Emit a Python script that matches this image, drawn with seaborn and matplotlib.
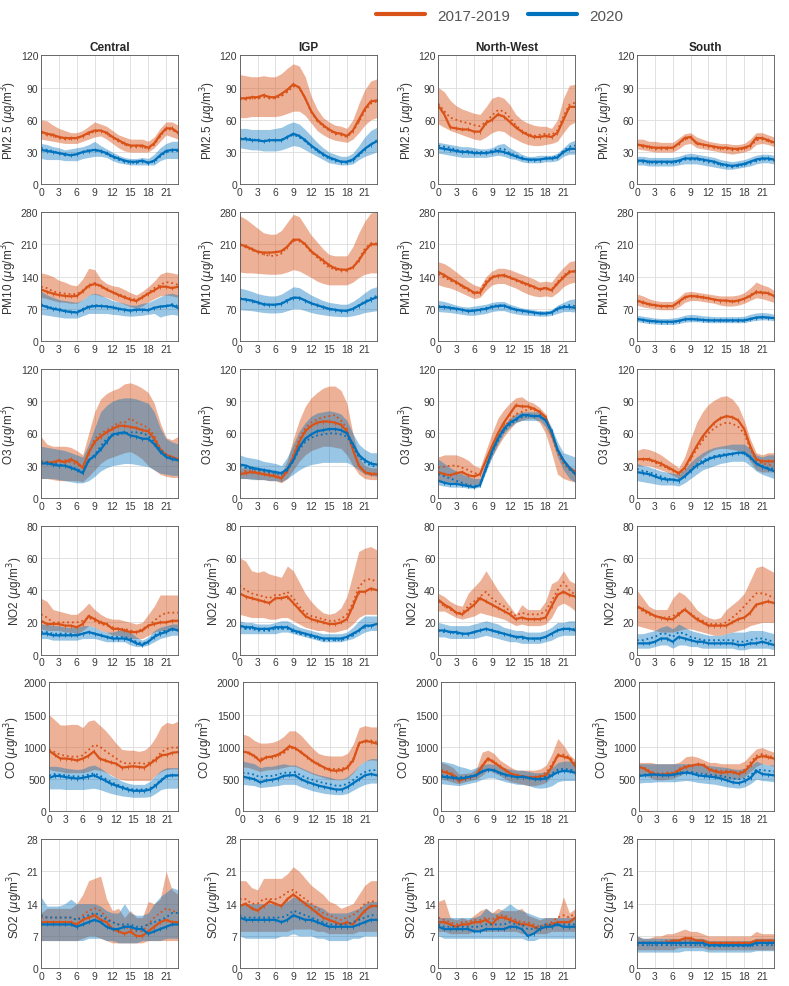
import matplotlib
matplotlib.use('Agg')
import matplotlib.pyplot as plt
import seaborn as sns
import pandas as pd
from matplotlib.lines import Line2D

# Diurnal cycles (hour 0-23): mean (solid), median (dotted), band lo/hi
hours = list(range(24))
regions = ['Central', 'IGP', 'North-West', 'South']

# ---------------- PM2.5 ----------------
pm25_cen_a = dict(mean=[49,47,46,44,43,43,43,45,48,50,50,48,44,41,38,36,36,36,34,38,46,52,52,48],
                  med=[48,46,45,43,42,42,43,45,47,49,50,47,43,40,37,35,35,35,33,37,45,51,51,47],
                  lo=[42,41,40,39,38,38,38,40,42,44,45,42,38,34,31,30,30,30,30,34,40,46,44,42],
                  hi=[60,59,55,52,50,48,48,50,54,58,56,54,50,46,44,42,42,42,40,44,52,58,58,55])
pm25_cen_b = dict(mean=[32,31,30,29,28,27,28,30,31,32,31,29,26,24,22,21,21,22,20,22,27,31,32,32],
                  med=[34,32,31,29,27,27,28,30,32,32,30,28,25,23,21,20,20,21,20,21,26,30,31,31],
                  lo=[24,23,23,23,22,22,22,24,25,26,26,25,22,20,19,18,18,18,18,18,22,24,24,24],
                  hi=[38,37,35,34,32,33,34,35,37,40,36,33,30,27,25,24,24,25,24,28,34,38,40,40])
pm25_igp_a = dict(mean=[80,80,81,81,83,81,81,84,88,93,90,80,68,60,55,51,48,47,45,50,60,70,77,78],
                  med=[79,79,80,80,81,80,80,82,86,91,90,80,67,59,54,50,47,46,44,49,58,68,75,77],
                  lo=[62,62,63,63,63,63,63,64,66,68,68,64,57,50,46,43,41,40,39,42,48,55,60,62],
                  hi=[102,101,100,100,101,100,100,103,108,112,110,100,82,70,62,58,55,54,52,60,75,88,96,98])
pm25_igp_b = dict(mean=[42,42,41,41,40,41,41,41,44,47,45,41,36,32,28,25,23,21,21,23,28,33,37,40],
                  med=[43,43,42,41,40,41,41,41,44,46,44,40,35,31,27,24,22,21,20,22,27,32,37,41],
                  lo=[34,33,32,32,31,31,31,32,34,36,35,32,29,26,23,20,19,18,18,19,23,26,28,30],
                  hi=[52,52,51,51,51,51,52,53,56,58,56,51,45,39,34,30,28,26,26,29,36,44,50,53])
pm25_nw_a = dict(mean=[73,65,53,52,51,51,49,49,57,60,65,63,58,53,49,46,44,44,45,44,48,60,72,72],
                 med=[75,68,62,60,58,57,55,54,58,64,69,68,62,55,50,47,45,46,47,46,50,63,74,76],
                 lo=[56,53,50,48,46,44,42,41,44,48,50,49,45,42,39,37,36,36,37,38,40,48,55,58],
                 hi=[90,86,78,73,70,68,66,65,72,80,82,80,74,65,60,57,55,54,54,52,60,80,92,93])
pm25_nw_b = dict(mean=[34,33,32,31,30,30,29,29,29,30,31,30,28,26,24,23,23,23,24,24,25,30,33,33],
                 med=[36,35,34,32,31,31,30,30,30,31,33,33,29,27,25,23,22,23,24,25,26,31,35,36],
                 lo=[29,28,27,26,25,25,25,25,25,26,27,26,24,23,21,20,20,20,21,21,22,26,28,28],
                 hi=[39,38,37,36,35,35,34,33,33,34,37,38,34,31,28,26,26,27,27,27,29,34,39,41])
pm25_s_a = dict(mean=[37,36,35,34,34,34,34,38,43,44,38,37,36,35,34,34,33,33,34,36,43,43,41,39],
                med=[37,35,34,33,33,33,34,37,42,43,39,37,35,34,33,33,32,32,33,35,41,42,40,38],
                lo=[33,32,31,30,30,30,30,33,37,38,34,33,32,31,30,29,28,29,30,32,37,38,37,35],
                hi=[42,42,40,40,39,39,39,43,47,48,44,42,40,39,38,38,37,37,38,42,48,48,46,44])
pm25_s_b = dict(mean=[22,22,21,21,21,21,21,22,24,24,24,23,22,21,19,18,17,18,19,21,23,24,24,23],
                med=[21,21,20,20,20,20,20,21,23,23,23,22,21,20,18,17,16,17,18,20,22,23,23,22],
                lo=[18,18,17,17,17,17,17,18,19,19,19,18,17,16,15,14,14,15,16,17,19,20,20,19],
                hi=[26,26,25,25,25,25,25,26,28,29,28,27,26,25,23,22,21,22,23,25,27,28,28,27])

# ---------------- PM10 ----------------
pm10_cen_a = dict(mean=[112,107,103,100,98,97,98,108,120,124,120,112,106,100,95,90,87,95,103,110,118,118,115,118],
                  med=[118,115,108,105,103,102,102,110,122,126,118,112,106,102,97,92,90,95,105,115,122,128,126,122],
                  lo=[95,92,88,85,84,82,82,90,100,102,98,95,90,85,80,75,72,76,85,92,98,100,98,95],
                  hi=[148,145,140,132,128,122,120,135,158,155,135,125,120,118,112,105,100,108,118,130,145,150,148,145])
pm10_cen_b = dict(mean=[78,74,70,68,65,63,62,68,74,76,76,75,73,70,68,66,68,68,67,72,75,76,78,72],
                  med=[80,75,72,70,66,64,63,70,76,78,77,76,74,71,69,67,69,69,68,73,74,76,80,76],
                  lo=[58,56,54,52,50,50,50,55,60,60,60,60,58,57,55,54,55,56,58,60,52,56,58,56],
                  hi=[108,100,95,90,88,86,84,90,100,104,100,94,88,85,82,78,78,82,84,90,96,102,104,100])
pm10_igp_a = dict(mean=[210,206,200,194,192,192,193,195,205,220,220,210,195,185,175,165,158,155,155,160,175,195,210,210],
                  med=[208,204,198,193,188,185,185,190,205,218,218,208,193,182,170,160,155,153,153,160,178,200,212,212],
                  lo=[150,148,148,147,146,145,145,146,150,155,152,145,138,130,125,122,122,122,122,128,138,145,148,148],
                  hi=[272,265,255,245,235,232,232,240,258,275,270,250,230,215,200,188,185,185,185,205,235,260,278,280])
pm10_igp_b = dict(mean=[92,90,88,84,80,79,79,81,88,94,94,88,82,78,74,70,68,66,66,70,77,84,90,95],
                  med=[93,91,87,82,79,78,79,82,90,95,94,88,82,77,73,69,67,65,65,70,78,86,93,98],
                  lo=[68,67,66,64,62,61,61,62,66,70,70,66,62,59,57,55,54,53,53,55,58,62,64,66],
                  hi=[115,112,108,103,100,98,98,102,110,118,116,108,100,94,88,84,82,80,80,86,95,105,114,118])
pm10_nw_a = dict(mean=[150,143,135,128,120,113,105,105,125,138,142,143,138,133,128,123,118,112,115,110,125,138,150,152],
                 med=[145,138,132,125,118,110,103,110,130,140,142,142,137,132,126,120,116,113,116,112,128,142,152,150],
                 lo=[122,118,115,110,104,98,92,95,110,122,125,125,120,115,108,102,98,96,98,96,105,118,125,128],
                 hi=[172,168,160,150,140,130,122,118,140,152,158,158,155,150,145,140,135,128,130,128,145,160,172,175])
pm10_nw_b = dict(mean=[74,74,72,70,68,65,66,68,70,74,76,77,72,68,66,64,62,60,60,62,70,74,74,72],
                 med=[76,75,73,71,68,66,67,69,72,76,78,78,73,69,66,64,62,60,60,62,72,76,78,76],
                 lo=[64,63,62,60,58,56,56,58,60,64,66,66,62,59,57,56,55,54,54,56,60,64,64,63],
                 hi=[88,86,82,78,75,74,76,78,80,84,86,86,80,76,72,70,68,66,66,68,78,84,90,92])
pm10_s_a = dict(mean=[88,84,80,78,76,76,76,85,95,98,97,95,93,90,88,88,86,88,92,98,106,105,104,98],
                med=[86,82,79,77,75,75,76,84,94,97,96,94,92,90,88,87,85,87,92,100,108,107,104,96],
                lo=[78,74,72,70,68,68,68,74,84,88,88,86,84,82,78,76,76,78,82,88,94,92,88,84],
                hi=[102,98,92,88,86,86,86,95,106,108,106,104,102,100,98,98,98,100,105,115,128,122,118,110])
pm10_s_b = dict(mean=[48,46,44,43,42,42,42,44,47,48,47,46,45,45,45,45,45,45,45,48,51,52,51,50],
                med=[47,45,43,42,41,41,41,43,46,47,47,46,45,44,44,44,44,43,44,47,50,51,51,49],
                lo=[42,40,38,37,36,36,36,38,41,42,42,41,40,40,40,40,40,40,40,43,45,46,46,44],
                hi=[56,54,52,50,49,49,50,52,56,58,57,55,54,53,53,53,53,53,54,58,61,62,61,58])

# ---------------- O3 ----------------
o3_cen_a = dict(mean=[32,33,33,35,33,36,33,28,42,52,57,61,64,67,67,66,65,63,62,55,45,40,38,36],
                med=[33,33,32,33,35,33,31,28,42,55,60,63,66,70,70,74,70,68,65,58,46,40,38,35],
                lo=[18,18,17,16,16,16,16,15,20,26,32,36,38,40,42,43,40,36,30,26,22,20,19,19],
                hi=[57,50,48,48,48,47,44,40,60,80,92,97,100,102,106,107,105,102,98,88,70,56,54,57])
o3_cen_b = dict(mean=[32,32,31,30,30,28,26,23,35,39,45,52,59,60,61,58,57,55,55,50,43,38,36,35],
                med=[34,33,32,31,30,29,27,24,35,40,48,55,58,59,60,61,61,60,58,52,45,40,37,36],
                lo=[18,18,18,17,16,15,14,14,16,20,25,28,30,31,32,32,31,30,29,26,23,22,21,21],
                hi=[48,47,46,45,44,42,40,38,50,65,80,86,90,92,93,93,92,90,88,80,65,55,52,50])
o3_igp_a = dict(mean=[22,23,24,23,22,21,20,18,25,38,52,62,67,70,71,71,70,68,62,45,30,24,22,22],
                med=[24,25,25,24,23,22,21,19,26,40,55,65,70,73,75,76,77,72,65,45,30,24,23,23],
                lo=[18,18,18,17,17,16,16,14,18,26,34,40,44,46,48,48,47,46,40,30,22,18,17,17],
                hi=[28,28,28,27,26,25,24,22,35,55,72,85,93,98,102,104,104,100,88,60,38,30,28,28])
o3_igp_b = dict(mean=[31,30,28,27,26,25,24,23,27,35,47,55,59,62,63,64,64,63,60,50,40,35,32,31],
                med=[29,28,27,26,25,24,23,22,26,34,45,52,56,58,59,60,60,59,57,48,38,33,30,29],
                lo=[18,18,17,17,17,16,16,15,18,22,26,29,31,32,33,33,33,33,33,30,26,22,21,20],
                hi=[40,38,37,36,34,33,32,30,38,50,62,70,76,79,80,81,80,78,72,60,50,45,42,42])
o3_nw_a = dict(mean=[24,22,21,23,24,21,20,22,35,48,60,70,78,86,85,85,83,80,75,60,45,35,28,24],
               med=[28,29,30,30,28,26,23,22,34,48,58,66,72,78,80,82,83,80,75,58,42,32,26,22],
               lo=[15,15,15,14,13,12,12,14,26,38,48,57,64,70,72,74,74,70,60,42,22,18,16,15],
               hi=[38,40,40,40,38,35,30,28,44,60,74,82,88,93,94,90,88,84,78,62,45,36,30,26])
o3_nw_b = dict(mean=[16,14,13,13,12,11,10,12,28,43,55,64,70,73,77,77,76,76,72,62,45,35,28,22],
               med=[22,20,18,16,14,12,11,12,26,42,53,62,68,72,75,76,76,77,72,62,45,34,27,22],
               lo=[12,11,10,10,10,9,9,10,24,38,50,60,66,70,72,72,72,72,66,55,38,26,18,14],
               hi=[36,32,28,25,22,20,18,18,32,48,60,68,74,78,80,80,80,80,76,66,52,42,40,38])
o3_s_a = dict(mean=[36,36,36,34,32,29,26,23,28,38,48,57,64,70,74,76,75,72,64,48,36,34,34,34],
              med=[36,36,35,33,30,28,25,22,27,36,45,53,60,65,68,70,69,66,60,46,35,32,31,30],
              lo=[30,30,30,28,26,24,21,18,20,27,32,38,42,45,46,46,45,44,42,34,26,24,24,24],
              hi=[44,46,45,43,40,36,32,28,38,55,70,80,87,91,94,95,92,85,72,55,42,40,42,42])
o3_s_b = dict(mean=[24,23,22,20,18,17,17,16,20,25,30,33,36,38,39,40,41,42,42,38,32,29,27,25],
              med=[27,25,24,22,20,18,17,17,20,26,31,35,37,39,40,41,41,42,41,37,32,30,28,27],
              lo=[16,15,14,13,12,12,12,11,14,18,22,26,28,30,32,33,34,34,34,30,25,22,20,18],
              hi=[32,30,29,27,25,24,23,22,27,33,38,42,45,47,48,49,50,50,50,46,40,38,40,40])

# ---------------- NO2 ----------------
no2_cen_a = dict(mean=[21,19,19,19,18,18,17,19,24,22,20,19,16,16,15,14,14,15,18,19,20,20,21,21],
                 med=[25,23,20,20,20,20,20,21,23,21,19,18,17,16,16,15,14,16,18,21,24,26,26,26],
                 lo=[16,15,15,15,14,14,13,15,18,17,15,14,12,12,11,10,10,10,12,14,15,15,15,16],
                 hi=[35,33,28,27,26,25,25,28,32,28,25,23,22,22,21,20,19,20,25,30,37,37,37,37])
no2_cen_b = dict(mean=[13,13,12,12,12,12,12,13,14,13,12,11,10,10,10,9,7,6,8,11,13,14,16,15],
                 med=[14,14,13,13,13,13,12,13,14,13,12,11,11,11,11,10,8,7,8,12,14,15,16,15],
                 lo=[10,10,9,9,9,9,9,10,10,10,9,8,8,8,8,6,5,5,6,8,10,11,12,12],
                 hi=[19,19,18,18,17,17,17,18,18,17,15,14,14,15,16,14,11,9,11,15,17,18,19,19])
no2_igp_a = dict(mean=[38,36,35,34,33,32,35,35,36,32,28,24,22,21,20,19,19,20,22,30,39,39,41,40],
                 med=[43,40,38,37,36,35,37,37,39,35,30,26,24,23,22,21,21,22,25,32,42,46,47,45],
                 lo=[25,24,23,23,23,22,22,23,23,21,19,17,16,15,15,14,14,15,16,19,23,25,25,25],
                 hi=[60,58,52,51,52,50,49,48,55,52,45,38,33,29,26,25,26,29,36,50,64,66,67,65])
no2_igp_b = dict(mean=[18,17,17,16,16,16,17,17,17,15,14,13,12,11,10,10,10,10,11,13,15,18,18,19],
                 med=[17,16,16,15,15,15,16,16,16,14,13,12,11,10,9,9,9,9,10,12,15,17,18,18],
                 lo=[13,13,13,13,13,13,13,14,14,13,12,11,10,9,8,8,8,8,9,10,12,14,15,15],
                 hi=[21,20,20,19,19,19,20,21,21,19,17,16,15,14,13,13,13,13,14,17,21,24,24,24])
no2_nw_a = dict(mean=[34,31,29,26,25,28,31,35,33,31,29,27,25,22,23,22,22,22,23,30,37,39,37,36],
                med=[33,30,28,26,26,30,33,36,39,35,32,30,27,24,26,25,25,25,27,33,40,45,40,37],
                lo=[27,27,25,23,22,23,24,26,25,24,23,22,20,18,19,18,18,18,19,23,30,32,30,27],
                hi=[38,36,33,31,30,38,42,46,52,46,40,35,30,25,31,28,28,28,33,44,46,52,46,44])
no2_nw_b = dict(mean=[15,15,14,14,13,13,14,15,16,15,14,13,12,11,11,10,10,10,11,13,15,16,16,15],
                med=[15,14,14,13,13,13,14,15,16,15,14,13,12,11,10,10,10,10,11,13,15,16,16,16],
                lo=[11,11,10,10,10,10,10,11,12,11,10,9,8,8,7,7,7,7,8,9,11,12,12,12],
                hi=[20,19,18,18,18,18,19,20,21,20,19,17,16,15,15,14,14,14,15,17,20,20,21,21])
no2_s_a = dict(mean=[30,28,26,24,23,22,22,25,28,25,22,20,18,18,18,18,20,22,23,26,31,32,33,32],
               med=[29,27,25,24,23,23,24,26,28,25,23,21,19,19,19,20,23,26,30,34,38,38,37,35],
               lo=[18,17,16,15,14,14,14,15,16,16,15,14,13,12,12,13,14,15,16,18,19,20,20,20],
               hi=[40,35,30,28,28,28,35,39,37,33,28,25,23,22,23,28,31,34,38,46,54,55,53,51])
no2_s_b = dict(mean=[7,7,7,8,10,10,8,11,10,9,8,8,7,7,7,7,7,6,6,7,7,8,7,6],
               med=[9,9,10,11,13,13,11,14,13,11,10,9,9,9,9,9,9,8,8,9,10,10,9,8],
               lo=[4,4,4,5,6,6,4,6,6,5,5,4,4,4,4,4,4,3,3,4,4,4,4,3],
               hi=[13,13,14,15,17,18,16,19,17,15,14,13,12,12,12,13,14,14,14,15,15,15,14,13])

# ---------------- CO ----------------
co_cen_a = dict(mean=[940,880,820,820,810,790,820,860,930,820,790,760,740,680,690,700,690,680,740,800,870,880,910,920],
                med=[960,920,880,860,850,850,870,950,1030,1010,940,880,820,760,740,750,750,740,760,820,920,970,990,990],
                lo=[650,630,620,600,600,600,600,620,650,640,610,570,520,490,480,480,480,480,480,560,620,650,660,660],
                hi=[1500,1420,1340,1340,1350,1350,1300,1400,1420,1340,1260,1160,1050,960,950,950,930,950,1020,1150,1320,1380,1360,1400])
co_cen_b = dict(mean=[520,550,550,530,520,510,520,540,560,520,480,430,400,370,340,320,320,320,340,400,480,550,560,560],
                med=[560,580,570,560,550,540,550,570,590,560,510,460,420,390,360,340,340,340,360,420,490,560,560,560],
                lo=[350,350,350,340,340,340,340,350,360,340,310,280,260,240,230,220,220,220,230,280,340,360,360,360],
                hi=[700,700,690,670,660,650,660,700,720,680,620,560,520,470,440,420,420,420,470,560,640,680,680,680])
co_igp_a = dict(mean=[930,910,860,780,840,850,880,930,1010,980,920,850,780,730,680,640,630,640,680,800,1060,1090,1080,1050],
                med=[920,900,850,820,830,840,860,900,980,980,910,840,770,720,680,660,660,660,700,820,1040,1100,1100,1080],
                lo=[690,680,650,620,640,650,660,680,700,700,660,620,580,550,520,500,490,490,520,600,720,780,800,790],
                hi=[1200,1170,1100,1060,1060,1070,1100,1160,1250,1250,1180,1080,980,900,870,860,860,860,900,1050,1300,1330,1310,1310])
co_igp_b = dict(mean=[540,520,500,450,480,490,510,550,560,560,500,460,430,400,380,360,340,340,380,440,500,560,580,560],
                med=[600,590,570,530,550,550,570,600,600,610,560,520,490,460,440,420,400,400,430,490,560,610,640,640],
                lo=[420,410,400,370,380,390,400,420,420,420,380,350,320,300,280,270,260,260,280,330,380,420,440,440],
                hi=[780,760,740,680,700,700,720,740,720,720,680,640,600,570,550,530,500,500,540,620,720,780,820,820])
co_nw_a = dict(mean=[620,600,560,470,510,530,560,700,820,760,700,640,580,560,540,530,530,540,560,700,870,850,820,700],
               med=[640,620,580,500,520,540,570,720,820,780,700,640,590,560,540,540,530,560,600,730,880,880,840,740],
               lo=[500,480,450,430,460,480,500,560,640,600,560,500,460,440,420,400,400,420,450,560,640,660,640,560],
               hi=[760,730,680,580,590,600,660,920,950,900,800,740,680,640,640,640,640,660,720,900,1130,1020,880,800])
co_nw_b = dict(mean=[540,530,520,510,520,540,560,620,650,640,600,570,550,530,540,520,500,500,510,560,610,630,620,600],
               med=[560,550,540,530,540,550,570,620,640,630,590,560,540,530,530,520,510,520,540,590,650,660,650,630],
               lo=[430,420,410,400,420,440,460,500,520,520,490,460,440,420,420,400,370,360,370,400,460,480,480,480],
               hi=[780,760,740,700,680,650,680,720,740,730,700,670,650,640,640,620,600,600,620,680,760,780,780,760])
co_s_a = dict(mean=[690,660,600,570,570,580,590,650,690,710,730,720,650,620,600,610,610,580,620,720,830,860,840,820],
              med=[700,670,620,590,590,600,600,670,710,720,730,710,660,640,630,630,620,600,650,760,860,890,860,840],
              lo=[580,560,520,490,490,500,520,560,600,600,600,580,540,520,500,500,500,500,540,620,700,740,720,700],
              hi=[760,760,760,740,740,740,740,770,850,860,840,800,760,760,740,740,740,740,780,880,970,990,950,920])
co_s_b = dict(mean=[550,560,570,570,560,560,570,590,600,590,560,550,540,530,510,480,450,440,470,520,630,580,570,560],
              med=[560,570,580,580,570,570,580,600,620,610,590,580,570,560,550,530,510,500,510,560,650,640,630,620],
              lo=[440,450,450,460,460,460,460,470,480,470,450,440,430,420,400,380,370,360,380,430,500,480,470,460],
              hi=[740,740,740,740,740,740,740,740,740,740,730,720,710,700,690,680,660,650,670,710,780,740,720,720])

# ---------------- SO2 ----------------
so2_cen_a = dict(mean=[10,10,10,10,10,10,9.5,10.5,11,11.5,10.5,10,8.5,8,7.5,8,7,7,8,9,10,10.5,10,10],
                 med=[11,11,11,11,11,11,10.5,11.5,12.5,13,12.5,11,10,9.5,9,8.5,8,8,9.5,11,12,13,12.5,12],
                 lo=[6,6,6,6,6,6,6,6.5,7,7,6.5,6,5.5,5.5,5.5,5.5,5.5,5.5,6,6,6,6,6,6],
                 hi=[12,13,13,13,13,13,14,16,19,19.5,20,15,12.5,13,11,12.5,11,11,14.5,14,15,21,17,16])
so2_cen_b = dict(mean=[9.5,9.5,9.5,9.5,9.5,9.5,9,9.5,10,10.5,10,9,8.5,8.5,9,9,8.5,8.5,7.5,8,8.5,9,9.5,9.5],
                 med=[11.5,11,11,11,11,11,10.5,11,11.5,12,11.5,10.5,10,9.5,9.5,9.5,9,9,9.5,10,10.5,11,12,12],
                 lo=[6,6,6,6,6,6,6,6,6.5,6.5,6.5,6,6,5.5,5.5,5.5,5.5,6,6,6,6,6.5,6.5,6.5],
                 hi=[15.5,13.5,13.5,13.5,14,15,14,14,14,14,13.5,12.5,12,12,14,12,11.5,11.5,12,14,15.5,16.5,17.5,17])
so2_igp_a = dict(mean=[13.5,14,13,12.5,13.5,14.5,14,13.5,15,16,15,14,13,12,11,10.5,10,9.5,10,9.5,11,12.5,13.5,13.5],
                 med=[15,15,14,14,15,15,15,15.5,16.5,17,16,15,14,13,12,11.5,11,10.5,11,11.5,12.5,14,14.5,14.5],
                 lo=[8,8,8,8,8,8,8,8,8,8.5,8.5,8.5,8.5,8,8,7.5,7.5,7.5,7.5,7.5,8,8,8,8],
                 hi=[19,19,17.5,17,19.5,19.5,19.5,19.5,20.5,22,21,19.5,18,17,16,14.5,14,13,13.5,14,16,18,19,19])
so2_igp_b = dict(mean=[11,10.5,10.5,10.5,10.5,10.5,10.5,10,10.5,11.5,11,10.5,10.5,10,9.5,9,9,9,9,9,9.5,10,10.5,10.5],
                 med=[11.5,11,11,11,11,11,11,11,11.5,12.5,12,11.5,11,10.5,10,9.5,9.5,9.5,9.5,10,10.5,11,11.5,11.5],
                 lo=[7,6.5,6.5,6.5,6.5,6.5,6.5,7,7,7.5,7,7,7,6.5,6.5,6,6,6,6,6.5,6.5,7,7,7],
                 hi=[14,14,14,14,14,14,14,14,14.5,15.5,15,14.5,14,13.5,13,12,12,12,12,12.5,13,14,14.5,14.5])
so2_nw_a = dict(mean=[10,10,9.5,9,9.5,9.5,10,10,10.5,9.5,11,11,10.5,10,9.5,9.5,9,8.5,9,9.5,10,10,10,11],
                med=[11,10.5,10,9.5,10,10,10.5,10.5,11,10.5,11.5,11.5,11,10.5,10,10,9.5,9,9.5,10,11,11.5,11,12],
                lo=[8,8,7.5,7.5,7.5,7.5,8,8,8,8,8,8,8,8,7.5,7.5,7.5,7.5,7.5,8,8,8,8,8],
                hi=[14.5,15,11,10.5,11,10.5,11.5,12.5,13,12,13,12.5,12.5,12.5,13,11.5,11,10.5,11,11,11,15.5,12,13])
so2_nw_b = dict(mean=[9,8.5,8.5,8.5,8.5,8.5,8,8,8.5,8.5,8.5,8.5,9,9,8.5,7,7.5,8.5,9,9,9.5,9,9,9],
                med=[9.5,9,9,9,9,9,9,9,9.5,9.5,9.5,9.5,10,9.5,9.5,8.5,8.5,9,9.5,9.5,9.5,9.5,9.5,9.5],
                lo=[7,6.5,6.5,6.5,6.5,6.5,6.5,6.5,6.5,6.5,6.5,6.5,6.5,6.5,6.5,6,6,6.5,6.5,6.5,6.5,6.5,6.5,6.5],
                hi=[11,11,11,11,11,11,11,11.5,13,12,12,13,14,13,12.5,12,11.5,11,11,11,11,11,11,11])
so2_s_a = dict(mean=[5.5,5.5,5.5,5.5,5.5,5.5,6,6,6.5,6.5,6,6,5.5,5.5,5.5,5.5,5.5,5.5,5.5,5.5,6,6,6,6],
               med=[5.5,5.5,5.5,5.5,5.5,6,6,6,6,6,6,6,5.5,5.5,5.5,5.5,5.5,5.5,5.5,5.5,6,6,6,6],
               lo=[4,4,4,4,4,4,4,4.5,4.5,4.5,4.5,4.5,4,4,4,4,4,4,4,4,4,4,4,4],
               hi=[7,6.5,6.5,7,7,7.5,7.5,8,8.5,8,8,7.5,7,7,7,7,7,7,7,7,8,7.5,7.5,7.5])
so2_s_b = dict(mean=[5.5,5.5,5.5,5.5,5.5,5.5,5.5,5.5,5.5,5.5,5.5,5.5,5,5,5,5,5,5,5,5,5.5,5.5,5.5,5.5],
               med=[5,5,5,5,5,5,5,5,5,5,5,5,4.8,4.8,4.8,4.8,4.8,4.8,4.8,4.8,5,5,5,5],
               lo=[3.5,3.5,3.5,3.5,3.5,3.5,3.5,3.5,3.8,3.8,3.8,3.8,3.5,3.5,3.5,3.5,3.5,3.5,3.5,3.5,3.8,3.8,3.8,3.8],
               hi=[7,6.5,6.5,6.5,6.5,6.5,6.5,6.5,6.5,6.5,6.5,6.5,6,6,6,6,6,6,6,6,6.5,6.5,6.5,6.5])

# rows: (species, y max, y step, [(2017-2019, 2020) per region])
rows = [
    ('PM2.5', 120, 30, [(pm25_cen_a, pm25_cen_b), (pm25_igp_a, pm25_igp_b), (pm25_nw_a, pm25_nw_b), (pm25_s_a, pm25_s_b)]),
    ('PM10', 280, 70, [(pm10_cen_a, pm10_cen_b), (pm10_igp_a, pm10_igp_b), (pm10_nw_a, pm10_nw_b), (pm10_s_a, pm10_s_b)]),
    ('O3', 120, 30, [(o3_cen_a, o3_cen_b), (o3_igp_a, o3_igp_b), (o3_nw_a, o3_nw_b), (o3_s_a, o3_s_b)]),
    ('NO2', 80, 20, [(no2_cen_a, no2_cen_b), (no2_igp_a, no2_igp_b), (no2_nw_a, no2_nw_b), (no2_s_a, no2_s_b)]),
    ('CO', 2000, 500, [(co_cen_a, co_cen_b), (co_igp_a, co_igp_b), (co_nw_a, co_nw_b), (co_s_a, co_s_b)]),
    ('SO2', 28, 7, [(so2_cen_a, so2_cen_b), (so2_igp_a, so2_igp_b), (so2_nw_a, so2_nw_b), (so2_s_a, so2_s_b)]),
]

ORANGE = '#D95319'
BLUE = '#0072BD'

sns.set_theme(style='white')
plt.rcParams['font.family'] = ['Liberation Sans', 'DejaVu Sans']


def draw_period(ax, d, color, alpha):
    ax.fill_between(hours, d['lo'], d['hi'], color=color, alpha=alpha, lw=0)
    df = pd.DataFrame({'hour': hours, 'mean': d['mean'], 'median': d['med']})
    sns.lineplot(data=df, x='hour', y='mean', ax=ax, color=color, lw=1.6,
                 marker='|', markersize=3, markeredgewidth=0.6, markeredgecolor=color)
    sns.lineplot(data=df, x='hour', y='median', ax=ax, color=color, lw=1.3, linestyle=':')


fig, axes = plt.subplots(6, 4, figsize=(7.89, 9.87), dpi=100)
fig.subplots_adjust(left=0.052, right=0.981, top=0.943, bottom=0.018, wspace=0.45, hspace=0.215)

# the CO row carries wider tick labels, so its axes start a little further right
co_shift = [8, 3, 3, 2]
for j, ax in enumerate(axes[4]):
    p = ax.get_position()
    dx = co_shift[j] / 789
    ax.set_position([p.x0 + dx, p.y0, p.width - dx, p.height])

for i, (species, ymax, ystep, panels) in enumerate(rows):
    for j, (a, b) in enumerate(panels):
        ax = axes[i, j]
        draw_period(ax, a, ORANGE, 0.45)
        draw_period(ax, b, BLUE, 0.40)
        ax.set_xlim(0, 23)
        ax.set_ylim(0, ymax)
        ax.set_xticks(range(0, 22, 3))
        ax.set_yticks(range(0, ymax + 1, ystep))
        ax.grid(True, color='#dcdcdc', lw=0.6)
        ax.set_axisbelow(True)
        ax.tick_params(direction='in', length=2, width=0.5, labelsize=7.5,
                       colors='#3a3a3a', pad=2)
        for s in ax.spines.values():
            s.set_color('#555555')
            s.set_linewidth(0.6)
        ax.set_xlabel('')
        ax.set_ylabel(species + r' ($\mu$g/m$^3$)', fontsize=8.5, color='#333333', labelpad=1)
        if i == 0:
            ax.set_title(regions[j], fontsize=8.5, fontweight='bold', pad=4)

handles = [Line2D([], [], color=ORANGE, lw=3), Line2D([], [], color=BLUE, lw=3)]
fig.legend(handles, ['2017-2019', '2020'], loc='center', bbox_to_anchor=(0.633, 0.983),
           ncol=2, frameon=False, fontsize=11, handlelength=3.2, columnspacing=1.2,
           labelcolor='#555555')

plt.savefig('out.png', dpi=100)
